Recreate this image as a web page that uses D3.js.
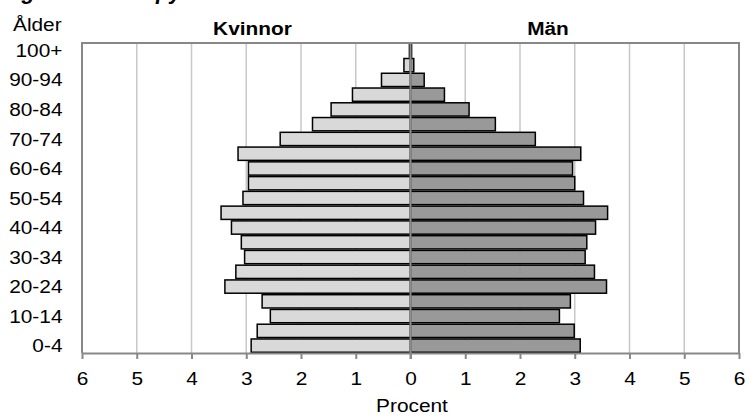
<!DOCTYPE html>
<html><head><meta charset="utf-8">
<script src="https://cdn.jsdelivr.net/npm/d3@7"></script>
<style>body{margin:0;background:#fff}svg{display:block}text{font-family:"Liberation Sans",Arial,sans-serif}</style>
</head><body><svg id="c" width="747" height="416"></svg>
<script>
const ageGroups = ["0-4","5-9","10-14","15-19","20-24","25-29","30-34","35-39","40-44","45-49","50-54","55-59","60-64","65-69","70-74","75-79","80-84","85-89","90-94","95-99","100+"];
const women = [2.91,2.80,2.56,2.71,3.39,3.19,3.03,3.09,3.27,3.46,3.06,2.96,2.96,3.15,2.38,1.79,1.45,1.06,0.53,0.12,0.02];
const men   = [3.10,2.99,2.72,2.92,3.58,3.36,3.19,3.22,3.38,3.60,3.16,3.00,2.96,3.11,2.28,1.55,1.07,0.62,0.25,0.06,0.02];
const xTicks = [-6,-5,-4,-3,-2,-1,0,1,2,3,4,5,6];
const shownAges = ["0-4","10-14","20-24","30-34","40-44","50-54","60-64","70-74","80-84","90-94","100+"];

const FS = 18.3, STRETCH = 1.14;
function stretch(sel){
  sel.each(function(){ const w=this.getComputedTextLength(); this.setAttribute("textLength", w*STRETCH); this.setAttribute("lengthAdjust","spacingAndGlyphs"); });
}

const svg = d3.select("#c");
const L = 82, R = 739, T = 43, B = 353;
const x = d3.scaleLinear().domain([-6,6]).range([L,R]);
const y = d3.scaleBand().domain(ageGroups.slice().reverse()).range([T,B]).paddingInner(0.1).paddingOuter(0.05);

// title (cut off at top in the original)
svg.append("text").attr("x",2).attr("y",-1).attr("font-size",22).attr("font-weight","bold").attr("font-style","italic").attr("fill","#000").text("Figur 1. Ålderspyramid");

// gridlines
svg.append("g").selectAll("line").data(xTicks.filter(d=>d!==0 && Math.abs(d)!==6)).join("line")
  .attr("x1",d=>x(d)).attr("x2",d=>x(d)).attr("y1",T).attr("y2",B)
  .attr("stroke","#c8c8c8").attr("stroke-width",1.5);

// bars
svg.append("g").selectAll("rect").data(ageGroups.map((a,i)=>({a,v:women[i]}))).join("rect")
  .attr("x",d=>x(-d.v)).attr("width",d=>x(0)-x(-d.v)).attr("y",d=>y(d.a)).attr("height",y.bandwidth())
  .attr("fill","#d9d9d9").attr("stroke","#000").attr("stroke-width",1.5);
svg.append("g").selectAll("rect").data(ageGroups.map((a,i)=>({a,v:men[i]}))).join("rect")
  .attr("x",x(0)).attr("width",d=>x(d.v)-x(0)).attr("y",d=>y(d.a)).attr("height",y.bandwidth())
  .attr("fill","#999999").attr("stroke","#000").attr("stroke-width",1.5);

// center line
svg.append("line").attr("x1",x(0)).attr("x2",x(0)).attr("y1",T).attr("y2",B+6).attr("stroke","#8c8c8c").attr("stroke-width",2);

// frame
svg.append("path").attr("d",`M${L},${B}V${T}H${R}V${B}`).attr("stroke","#888").attr("stroke-width",2).attr("fill","none");

// bottom axis
const ax = svg.append("g").attr("transform",`translate(0,${B})`)
  .call(d3.axisBottom(x).tickValues(xTicks).tickSize(6).tickSizeOuter(0).tickFormat(d=>Math.abs(d)));
ax.select(".domain").attr("stroke","#888").attr("stroke-width",2);
ax.selectAll(".tick line").attr("stroke","#888").attr("stroke-width",2);
ax.selectAll(".tick text").attr("font-size",FS).attr("fill","#000").attr("y",32).attr("dy",0)
  .attr("font-family","Liberation Sans, Arial, sans-serif").call(stretch);

// y labels
svg.append("g").selectAll("text").data(shownAges).join("text")
  .attr("x",62.5).attr("y",d=>y(d)+y.bandwidth()/2).attr("dy","0.36em").attr("text-anchor","end")
  .attr("font-size",FS).attr("fill","#000").text(d=>d).call(stretch);

svg.append("text").attr("x",13).attr("y",31).attr("font-size",FS).attr("fill","#000").text("Ålder").call(stretch);
svg.append("text").attr("x",252.5).attr("y",35).attr("text-anchor","middle").attr("font-size",FS).attr("font-weight","bold").attr("fill","#000").text("Kvinnor").call(stretch);
svg.append("text").attr("x",548).attr("y",35).attr("text-anchor","middle").attr("font-size",FS).attr("font-weight","bold").attr("fill","#000").text("Män").call(stretch);
svg.append("text").attr("x",412).attr("y",411.5).attr("text-anchor","middle").attr("font-size",FS).attr("fill","#000").text("Procent").call(stretch);
</script></body></html>
